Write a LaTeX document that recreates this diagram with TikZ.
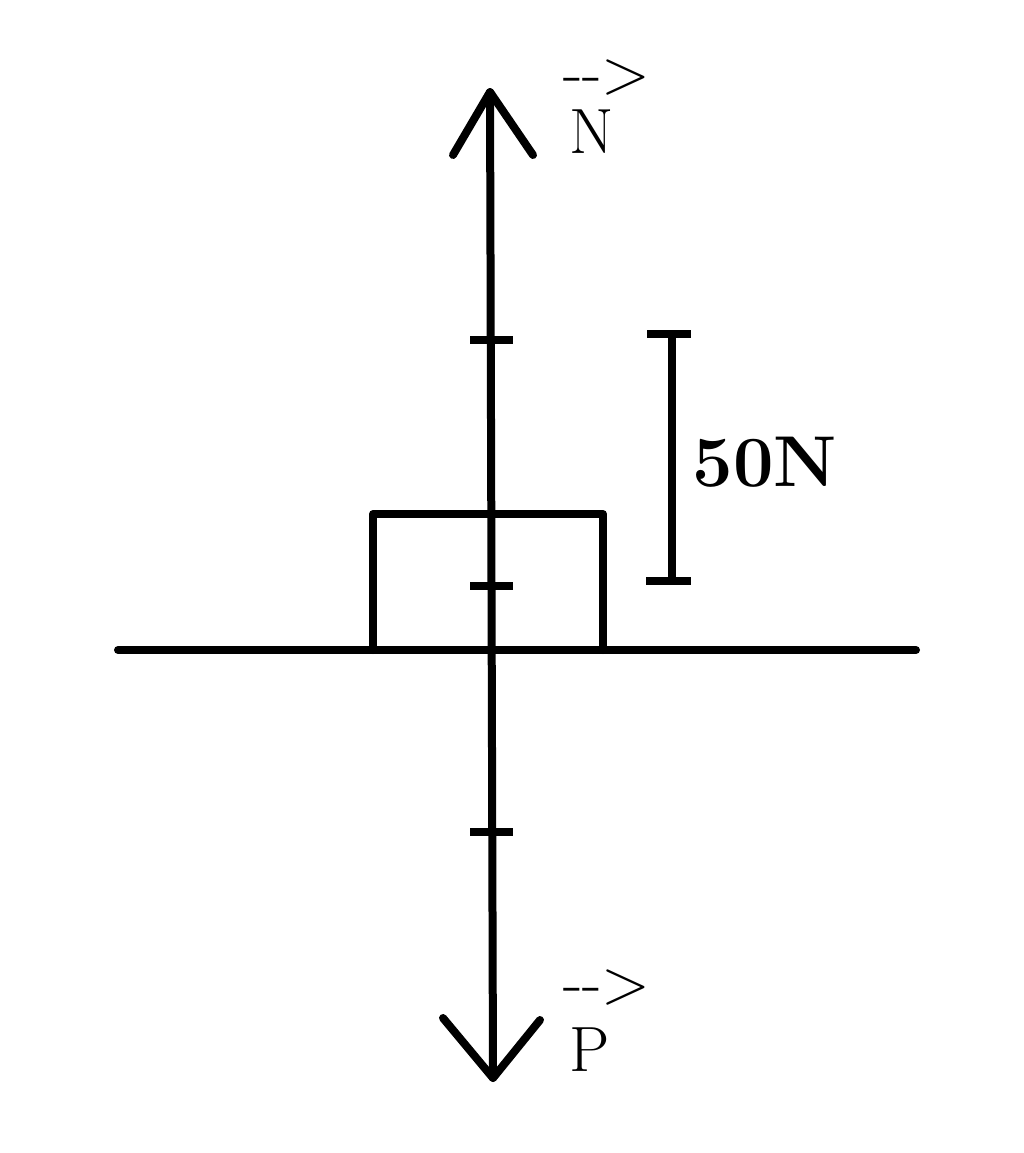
\documentclass[tikz,border=0pt]{standalone}
\usepackage{fontspec}
\begin{document}
\begin{tikzpicture}[x=0.75pt,y=0.75pt,yscale=-1,xscale=1,line width=6pt,line cap=round,line join=round]
        \useasboundingbox (0,0) rectangle (1024,1153);
        %Vertical force line
        \draw    (490,92) -- (493,1078) ;
        %Arrow heads
        \draw    (453,155) -- (490,92) -- (533,155) ;
        \draw    (443,1018) -- (493,1078) -- (540,1020) ;
        %Ground
        \draw    (118,650) -- (916,650) ;
        %Block
        \draw    (373,650) -- (373,514) -- (603,514) -- (603,650) ;
        %Ticks
        \foreach \y in {340,586,832}
          \draw [line cap=butt]  (470,\y) -- (513,\y) ;
        %Scale bar
        \draw [line cap=butt]   (672,334) -- (672,581) ;
        \draw [line cap=butt]   (647,334) -- (691,334) ;
        \draw [line cap=butt]   (646,581) -- (691,581) ;

        % Text Node
        \draw (765,462) node [inner sep=0.75pt] (scale) {\fontsize{54}{58}\selectfont\bfseries 50N};
        % Text Node
        \draw (592,132) node [inner sep=0.75pt] (nlab) {\fontsize{48}{52}\selectfont N};
        % Text Node
        \draw (607,78) node [inner sep=0.75pt] (narr) {\fontsize{48}{52}\selectfont -{}->};
        % Text Node
        \draw (590,1050) node [inner sep=0.75pt] (plab) {\fontsize{48}{52}\selectfont P};
        % Text Node
        \draw (607,988) node [inner sep=0.75pt] (parr) {\fontsize{48}{52}\selectfont -{}->};
\end{tikzpicture}
\end{document}
